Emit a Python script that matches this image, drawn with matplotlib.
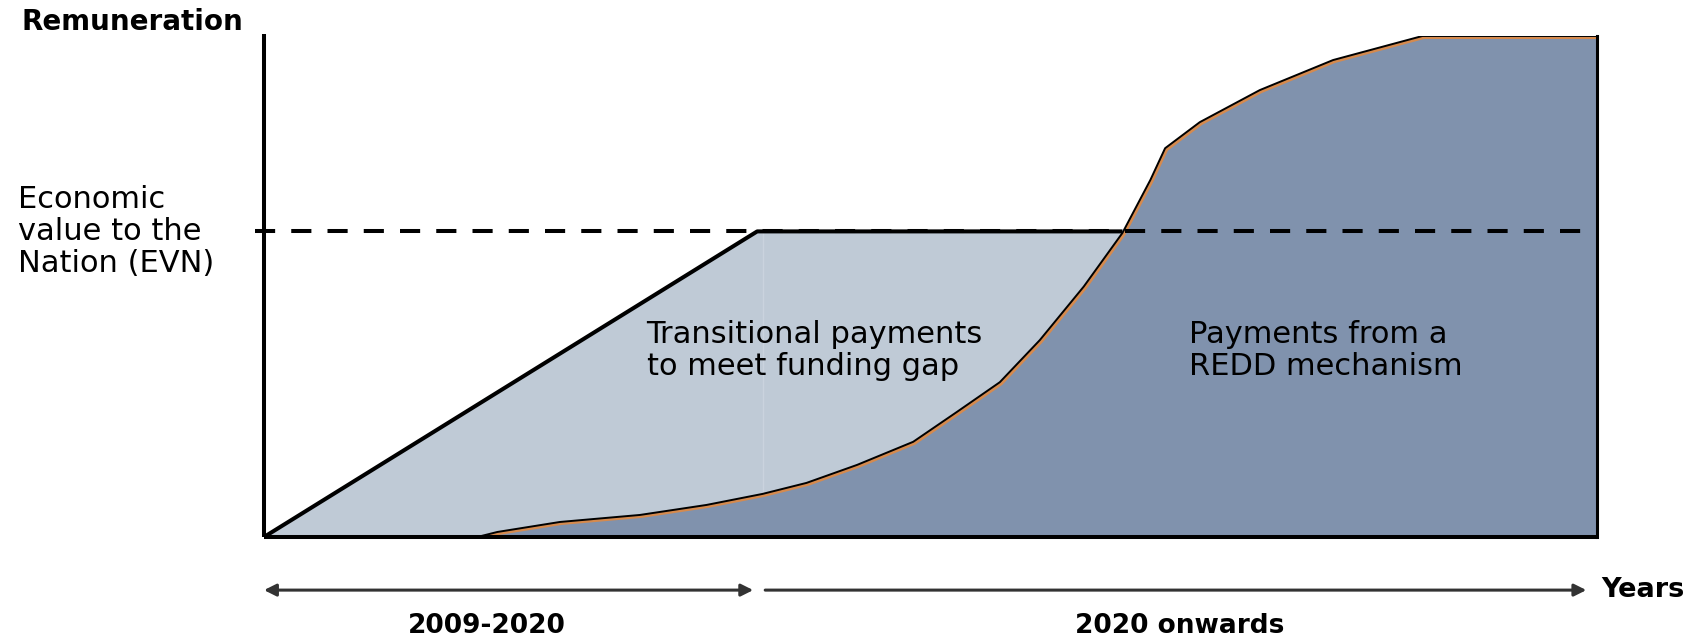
import numpy as np
import matplotlib
matplotlib.use('Agg')
import matplotlib.pyplot as plt
import matplotlib.transforms as mtransforms

# values, x and y in 0..100 of the plot box
evn_level = 61.0
trans_x = [0, 37.0, 64.4]
trans_y = [0, 61.0, 61.0]

redd_x = [16.0, 17.5, 22.2, 28.2, 33.2, 37.4, 40.7, 44.5, 48.7, 52.0, 55.2,
          58.2, 61.5, 64.4, 66.5, 67.6, 70.2, 74.7, 80.2, 86.9, 100.0]
redd_y = [0.0, 1.0, 3.0, 4.4, 6.4, 8.6, 10.8, 14.4, 19.0, 25.0, 30.9,
          39.3, 50.0, 60.7, 71.3, 77.6, 82.8, 89.2, 95.2, 100.0, 100.0]

period_labels = ['2009-2020', '2020 onwards']
period_bounds = [(0, 36.7), (37.6, 99.2)]
period_mid = [16.7, 68.7]
region_labels = ['Transitional payments\nto meet funding gap',
                 'Payments from a\nREDD mechanism']

LIGHT = '#bfcad6'
DARK = '#8092ad'
ORANGE = '#d58a4e'


def draw_chart():
    fig = plt.figure(figsize=(16.98, 6.37), dpi=100)
    # plot box: x 264..1597 px, y 36..537 px
    ax = fig.add_axes([264 / 1698, 100 / 637, 1333 / 1698, 501 / 637])
    ax.set_xlim(0, 100)
    ax.set_ylim(0, 100)
    ax.axis('off')

    shadow = mtransforms.offset_copy(ax.transData, fig=fig, x=1.5, y=-1.5, units='dots')

    # transitional payments area (light), then REDD area over it (dark)
    ax.fill(trans_x + [trans_x[-1], 0], trans_y + [0, 0], color=LIGHT, lw=0, zorder=1)
    # faint seam in the light area where the ramp ends
    ax.plot([redd_x[5], redd_x[5]], [redd_y[5], evn_level], color='#cad3de', lw=1, zorder=1.5)
    rx = list(redd_x) + [100, redd_x[0]]
    ry = list(redd_y) + [0, 0]
    ax.fill(rx, ry, color=DARK, lw=0, zorder=2)

    # outline of the REDD area with its orange shadow
    ax.plot(rx[:-1], ry[:-1], color=ORANGE, lw=2.2, transform=shadow, zorder=3,
            solid_joinstyle='round')
    ax.plot([13.2, 100], [0, 0], color=ORANGE, lw=2.5, transform=shadow, zorder=3, alpha=0.7)
    ax.plot(rx[:-1], ry[:-1], color='black', lw=1.4, zorder=4, solid_joinstyle='round')

    # transitional envelope
    ax.plot(trans_x, trans_y, color='black', lw=2.9, zorder=5, solid_capstyle='butt')

    # EVN dashed level
    ax.plot([-0.7, 100], [evn_level, evn_level], color='black', lw=2.9,
            dashes=(5, 4), zorder=6, clip_on=False)

    # axes lines
    ax.plot([0, 0], [0, 100.3], color='black', lw=2.9, zorder=7, clip_on=False,
            solid_capstyle='butt')
    ax.plot([0, 100], [0, 0], color='black', lw=2.9, zorder=7, clip_on=False,
            solid_capstyle='butt')
    ax.plot([100, 100], [0, 100], color='black', lw=2.2, zorder=7, clip_on=False)

    # period arrows under the chart
    y_arr = -10.6
    ax.annotate('', xy=(period_bounds[0][0], y_arr), xytext=(period_bounds[0][1], y_arr),
                arrowprops=dict(arrowstyle='<|-|>', color='#333333', lw=2.2,
                                mutation_scale=18, shrinkA=0, shrinkB=0),
                annotation_clip=False)
    ax.annotate('', xy=(period_bounds[1][1], y_arr), xytext=(period_bounds[1][0], y_arr),
                arrowprops=dict(arrowstyle='-|>', color='#333333', lw=2.2,
                                mutation_scale=18, shrinkA=0, shrinkB=0),
                annotation_clip=False)
    for mid, lab in zip(period_mid, period_labels):
        ax.text(mid, -17.8, lab, ha='center', va='center', fontsize=19,
                fontweight='bold', clip_on=False)
    ax.text(100.3, y_arr, 'Years', ha='left', va='center', fontsize=19.5,
            fontweight='bold', clip_on=False)

    # labels
    ax.text(-18.2, 102.8, 'Remuneration', ha='left', va='center', fontsize=20,
            fontweight='bold', clip_on=False)
    ax.text(-18.45, evn_level, 'Economic\nvalue to the\nNation (EVN)', ha='left',
            va='center', fontsize=22, linespacing=1.13, clip_on=False)
    ax.text(28.7, 37.3, region_labels[0], ha='left', va='center', fontsize=22,
            linespacing=1.12, zorder=8)
    ax.text(69.4, 37.3, region_labels[1], ha='left', va='center', fontsize=22,
            linespacing=1.12, zorder=8)

    fig.savefig('out.png', dpi=100)


if __name__ == '__main__':
    draw_chart()
